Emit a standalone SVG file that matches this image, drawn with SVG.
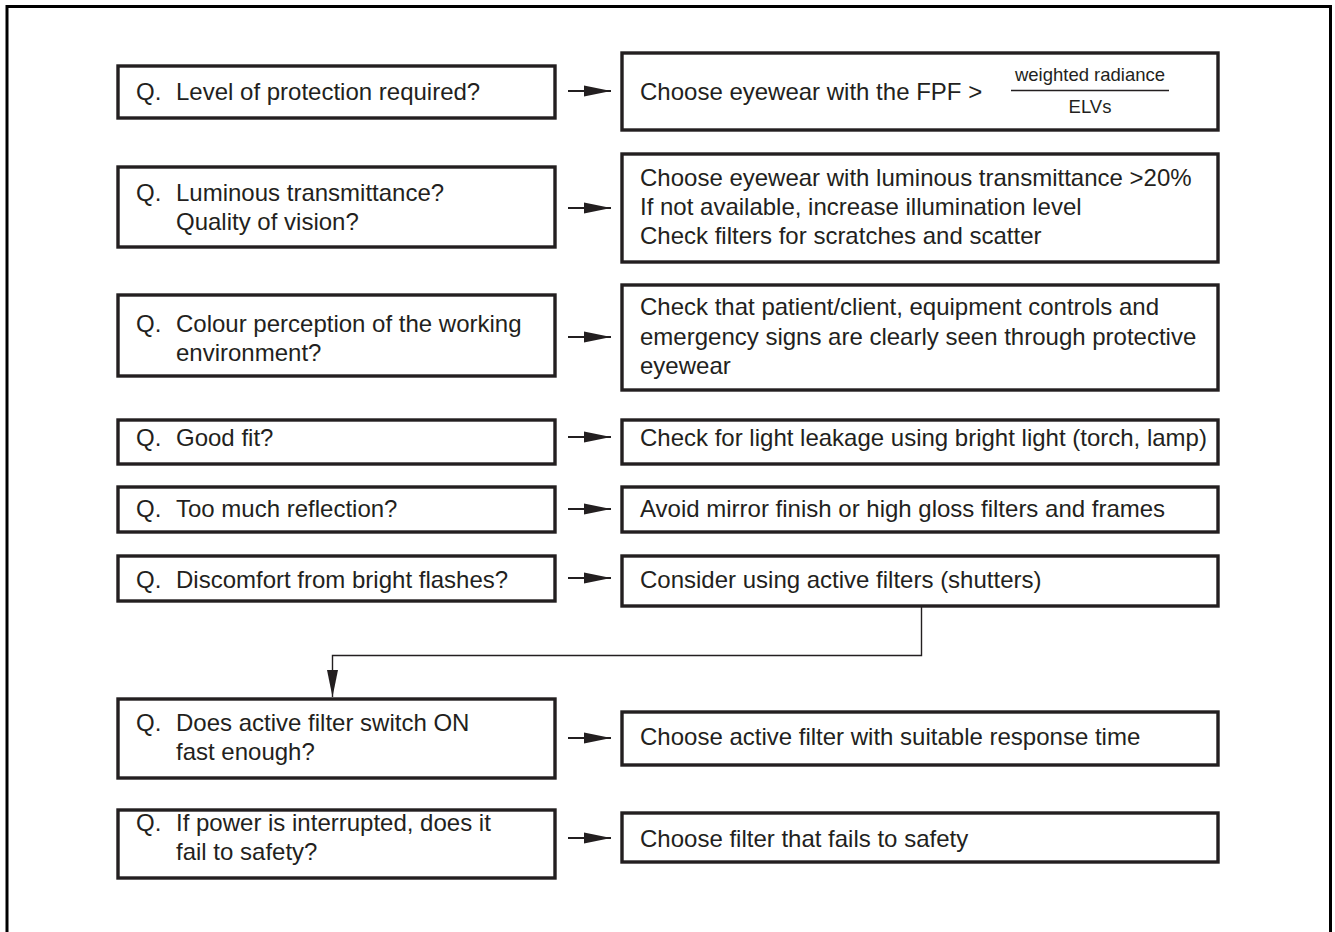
<svg xmlns="http://www.w3.org/2000/svg" width="1335" height="932" viewBox="0 0 1335 932">
<defs>
<style>
.box{fill:#fff;stroke:#231f20;stroke-width:3.4}
text{font-family:"Liberation Sans",Arial,sans-serif;font-size:24px;fill:#231f20}
.small{font-size:18.5px}
.arr{stroke:#231f20;stroke-width:2;fill:none}
.thin{stroke:#231f20;stroke-width:1.4;fill:none}
</style>
<marker id="ah" viewBox="0 0 28 12" markerWidth="28" markerHeight="12" refX="27" refY="6" orient="auto" markerUnits="userSpaceOnUse">
<path d="M0,0.5 L27,6 L0,11.5 Z" fill="#231f20"/>
</marker>
</defs>
<rect width="1335" height="932" fill="#fff"/>
<path d="M7,932 V6.5 H1330.5 V932" fill="none" stroke="#000" stroke-width="3"/>

<g id="connectors">
<line class="arr" x1="568" y1="91" x2="611" y2="91" marker-end="url(#ah)"/>
<line class="arr" x1="568" y1="208" x2="611" y2="208" marker-end="url(#ah)"/>
<line class="arr" x1="568" y1="337" x2="611" y2="337" marker-end="url(#ah)"/>
<line class="arr" x1="568" y1="437" x2="611" y2="437" marker-end="url(#ah)"/>
<line class="arr" x1="568" y1="509" x2="611" y2="509" marker-end="url(#ah)"/>
<line class="arr" x1="568" y1="578" x2="611" y2="578" marker-end="url(#ah)"/>
<line class="arr" x1="568" y1="738" x2="611" y2="738" marker-end="url(#ah)"/>
<line class="arr" x1="568" y1="838" x2="611" y2="838" marker-end="url(#ah)"/>
<path class="thin" d="M921.5,607 V655.5 H332.5 V697" marker-end="url(#ah)"/>
</g>

<g id="q1">
<rect class="box" x="118" y="66" width="437" height="52"/>
<text x="136" y="100">Q.<tspan x="176">Level of protection required?</tspan></text>
</g>
<g id="a1">
<rect class="box" x="622" y="53" width="596" height="77"/>
<text x="640" y="100">Choose eyewear with the FPF &gt;</text>
<text class="small" x="1090" y="81" text-anchor="middle">weighted radiance</text>
<line x1="1011" y1="90.5" x2="1169" y2="90.5" stroke="#231f20" stroke-width="1.4"/>
<text class="small" x="1090" y="113" text-anchor="middle">ELVs</text>
</g>

<g id="q2">
<rect class="box" x="118" y="167" width="437" height="80"/>
<text x="136" y="201">Q.<tspan x="176">Luminous transmittance?</tspan></text>
<text x="176" y="230">Quality of vision?</text>
</g>
<g id="a2">
<rect class="box" x="622" y="154" width="596" height="108"/>
<text x="640" y="186">Choose eyewear with luminous transmittance &gt;20%</text>
<text x="640" y="215">If not available, increase illumination level</text>
<text x="640" y="244">Check filters for scratches and scatter</text>
</g>

<g id="q3">
<rect class="box" x="118" y="295" width="437" height="81"/>
<text x="136" y="332">Q.<tspan x="176">Colour perception of the working</tspan></text>
<text x="176" y="361">environment?</text>
</g>
<g id="a3">
<rect class="box" x="622" y="285" width="596" height="105"/>
<text x="640" y="315">Check that patient/client, equipment controls and</text>
<text x="640" y="345">emergency signs are clearly seen through protective</text>
<text x="640" y="374">eyewear</text>
</g>

<g id="q4">
<rect class="box" x="118" y="420" width="437" height="44"/>
<text x="136" y="446">Q.<tspan x="176">Good fit?</tspan></text>
</g>
<g id="a4">
<rect class="box" x="622" y="420" width="596" height="44"/>
<text x="640" y="446">Check for light leakage using bright light (torch, lamp)</text>
</g>

<g id="q5">
<rect class="box" x="118" y="487" width="437" height="45"/>
<text x="136" y="517">Q.<tspan x="176">Too much reflection?</tspan></text>
</g>
<g id="a5">
<rect class="box" x="622" y="487" width="596" height="45"/>
<text x="640" y="517">Avoid mirror finish or high gloss filters and frames</text>
</g>

<g id="q6">
<rect class="box" x="118" y="556" width="437" height="45"/>
<text x="136" y="588">Q.<tspan x="176">Discomfort from bright flashes?</tspan></text>
</g>
<g id="a6">
<rect class="box" x="622" y="556" width="596" height="50"/>
<text x="640" y="588">Consider using active filters (shutters)</text>
</g>

<g id="q7">
<rect class="box" x="118" y="699" width="437" height="79"/>
<text x="136" y="731">Q.<tspan x="176">Does active filter switch ON</tspan></text>
<text x="176" y="760">fast enough?</text>
</g>
<g id="a7">
<rect class="box" x="622" y="712" width="596" height="53"/>
<text x="640" y="745">Choose active filter with suitable response time</text>
</g>

<g id="q8">
<rect class="box" x="118" y="810" width="437" height="68"/>
<text x="136" y="831">Q.<tspan x="176">If power is interrupted, does it</tspan></text>
<text x="176" y="860">fail to safety?</text>
</g>
<g id="a8">
<rect class="box" x="622" y="813" width="596" height="49"/>
<text x="640" y="847">Choose filter that fails to safety</text>
</g>
</svg>
